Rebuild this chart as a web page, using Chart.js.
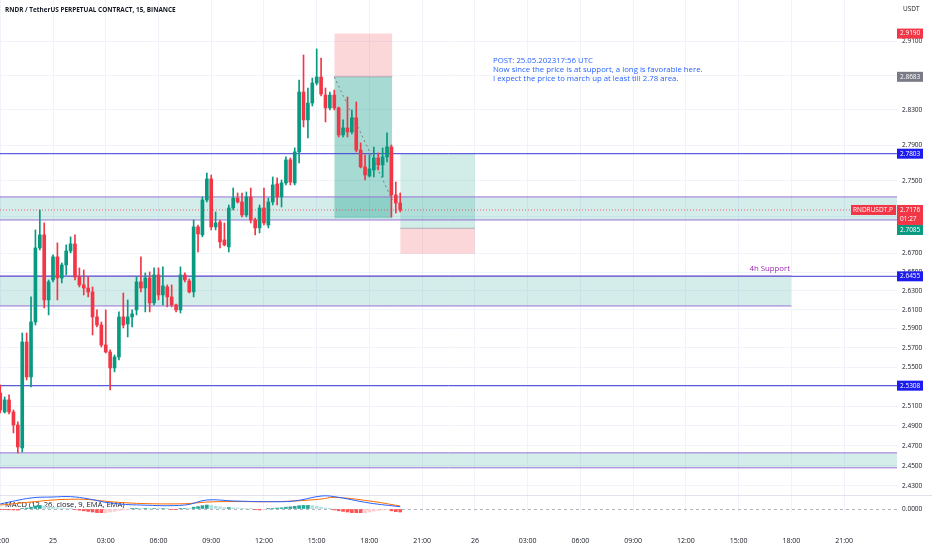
<!DOCTYPE html>
<html>
<head>
<meta charset="utf-8">
<script src="https://cdn.jsdelivr.net/npm/chart.js@4.4.0/dist/chart.umd.min.js"></script>
<style>
  html, body { margin: 0; padding: 0; background: #fff; }
  #wrap { width: 932px; height: 550px; position: relative; }
</style>
</head>
<body>
<div id="wrap"><canvas id="chart"></canvas></div>
<script>
// RNDRUSDT.P 15m candles, first one at 24th 21:00 (x = hours from 25th 00:00)
const startHour = -3;
const opens = [2.5233,2.5040,2.5162,2.5040,2.4908,2.4677,2.5760,2.5398,2.5970,2.6761,
  2.6903,2.6203,2.6416,2.6664,2.6437,2.6577,2.6728,2.6805,2.6448,2.6363,
  2.6330,2.6288,2.6023,2.5938,2.5729,2.5656,2.5491,2.5604,2.6023,2.5949,
  2.6023,2.6097,2.6395,2.6330,2.6437,2.6171,2.6470,2.6256,2.6341,2.6235,
  2.6150,2.6097,2.6470,2.6405,2.6288,2.6990,2.6903,2.7286,2.7520,2.6990,
  2.7044,2.6848,2.6772,2.7198,2.7308,2.7264,2.7121,2.7320,2.7066,2.6979,
  2.7198,2.7011,2.7264,2.7464,2.7320,2.7475,2.7733,2.7475,2.7823,2.8507,
  2.8186,2.8380,2.8611,2.8681,2.8472,2.8323,2.8472,2.8323,2.8015,2.8095,
  2.8049,2.8209,2.7845,2.7654,2.7553,2.7620,2.7755,2.7677,2.7767,2.7879,
  2.7342,2.7253];
const highs = [2.5315,2.5193,2.5213,2.5060,2.4939,2.5854,2.5854,2.6235,2.6957,2.7176,
  2.7033,2.6416,2.6685,2.6816,2.6599,2.6794,2.6881,2.6903,2.6545,2.6523,
  2.6448,2.6341,2.6097,2.5970,2.6097,2.5677,2.5625,2.6076,2.6277,2.6203,
  2.6097,2.6448,2.6664,2.6491,2.6502,2.6545,2.6545,2.6556,2.6363,2.6363,
  2.6160,2.6556,2.6491,2.6427,2.7066,2.7011,2.7320,2.7586,2.7564,2.7154,
  2.7066,2.7033,2.7231,2.7419,2.7364,2.7364,2.7375,2.7419,2.7088,2.7231,
  2.7419,2.7308,2.7542,2.7531,2.7509,2.7767,2.7755,2.7868,2.8646,2.8938,
  2.8553,2.8669,2.9009,2.8903,2.8553,2.8507,2.8530,2.8334,2.8186,2.8449,
  2.8300,2.8392,2.7924,2.7789,2.7789,2.7879,2.7811,2.7868,2.8038,2.7901,
  2.7486,2.7364];
const lows = [2.5029,2.5029,2.5019,2.4828,2.4627,2.4637,2.5367,2.5295,2.5938,2.6739,
  2.6118,2.6044,2.6395,2.6203,2.6384,2.6470,2.6707,2.6416,2.6341,2.6256,
  2.6235,2.5834,2.5917,2.5708,2.5646,2.5264,2.5450,2.5573,2.5907,2.5813,
  2.5917,2.6044,2.6288,2.6076,2.6076,2.6150,2.6203,2.6150,2.6129,2.6129,
  2.6076,2.6065,2.6395,2.6277,2.6235,2.6717,2.6881,2.7264,2.6957,2.6957,
  2.6761,2.6783,2.6717,2.7176,2.7253,2.7099,2.7099,2.7033,2.6903,2.6924,
  2.7011,2.6979,2.7231,2.7231,2.7209,2.7453,2.7453,2.7453,2.7700,2.8106,
  2.7981,2.8346,2.8588,2.8461,2.8163,2.8300,2.8300,2.7992,2.7992,2.7992,
  2.8026,2.7823,2.7643,2.7509,2.7542,2.7542,2.7620,2.7542,2.7711,2.7099,
  2.7143,2.7154];
const closes = [2.5060,2.5162,2.5040,2.4908,2.4687,2.5760,2.5398,2.5970,2.6761,2.6903,
  2.6203,2.6395,2.6664,2.6437,2.6577,2.6728,2.6805,2.6448,2.6363,2.6330,
  2.6288,2.6023,2.5938,2.5729,2.5656,2.5491,2.5604,2.6023,2.5938,2.6023,
  2.6055,2.6395,2.6330,2.6437,2.6171,2.6470,2.6256,2.6352,2.6235,2.6150,
  2.6097,2.6470,2.6416,2.6288,2.6990,2.6913,2.7286,2.7520,2.6990,2.7033,
  2.6826,2.6794,2.7198,2.7308,2.7264,2.7121,2.7320,2.7066,2.6979,2.7198,
  2.7033,2.7264,2.7453,2.7320,2.7475,2.7733,2.7486,2.7823,2.8507,2.8186,
  2.8380,2.8611,2.8681,2.8484,2.8323,2.8472,2.8323,2.8015,2.8095,2.8049,
  2.8209,2.7845,2.7654,2.7565,2.7632,2.7755,2.7677,2.7767,2.7879,2.7342,
  2.7253,2.7176];

// MACD histogram per candle, and MACD / signal lines read at some hours
const macdHist = [-0.0005,-0.0006,-0.0007,-0.0008,-0.0009,0.0003,0.0008,0.0015,0.0025,0.0030,
  0.0025,0.0020,0.0015,0.0010,0.0008,0.0005,0.0003,-0.0005,-0.0010,-0.0015,
  -0.0020,-0.0025,-0.0030,-0.0032,-0.0030,-0.0025,-0.0020,-0.0012,-0.0008,-0.0003,
  0.0002,0.0006,0.0004,0.0005,0.0003,0.0004,0.0003,0.0004,0.0002,-0.0002,
  -0.0003,0.0003,0.0004,0.0002,0.0015,0.0020,0.0028,0.0033,0.0030,0.0022,
  0.0018,0.0012,0.0012,0.0010,0.0008,0.0006,0.0004,0.0001,-0.0006,-0.0008,
  -0.0004,0.0002,0.0005,0.0008,0.0010,0.0015,0.0018,0.0022,0.0028,0.0030,
  0.0030,0.0028,0.0022,0.0015,0.0008,0.0002,-0.0008,-0.0015,-0.0020,-0.0025,
  -0.0030,-0.0033,-0.0035,-0.0033,-0.0025,-0.0018,-0.0012,-0.0008,-0.0006,-0.0015,
  -0.0022,-0.0025];
const macdHours = [-3, -1.25, 0, 1, 2, 3.25, 5, 7.5, 8.75, 10.25, 12.25, 13.75, 15.25, 16, 18, 19.75];
const macdLine = [0.0042,0.0092,0.0100,0.0103,0.0085,0.0050,0.0033,0.0033,0.0075,0.0067,0.0061,0.0067,0.0108,0.0103,0.0050,0.0019];
const signalLine = [0.0033,0.0058,0.0075,0.0081,0.0079,0.0061,0.0046,0.0044,0.0058,0.0062,0.0061,0.0067,0.0083,0.0097,0.0067,0.0025];

// drawings
const levelPrices = [2.7803, 2.6455, 2.5308];
const zoneTops = [2.7320, 2.6459, 2.4628];
const zoneBottoms = [2.7066, 2.6139, 2.4479];
const zoneEnds = [48.01, 42, 48.01];
const shortLevels = [2.9190, 2.8683, 2.7085]; // stop, entry, target
const shortSpan = [16, 19.3];
const longLevels = [2.7803, 2.6975, 2.6697];  // target, entry, stop
const longSpan = [19.75, 24];
const lastPrice = 2.7176;

// axes
const xMin = -3.015, xMax = 48.01;
const timeTicks = [-3, 0, 3, 6, 9, 12, 15, 18, 21, 24, 27, 30, 33, 36, 39, 42, 45];
const timeLabels = ['21:00', '25', '03:00', '06:00', '09:00', '12:00', '15:00', '18:00', '21:00',
  '26', '03:00', '06:00', '09:00', '12:00', '15:00', '18:00', '21:00'];
const priceTicks = [2.91, 2.87, 2.83, 2.79, 2.75, 2.71, 2.67, 2.65, 2.63, 2.61, 2.59, 2.57,
  2.55, 2.53, 2.51, 2.49, 2.47, 2.45, 2.43];
const markerPrices = [2.9190, 2.8683, 2.7803, 2.7176, 2.7085, 2.6455, 2.5308];
const markerColors = ['#f23645', '#787b86', '#1c1cf0', '#f23645', '#089981', '#1c1cf0', '#1c1cf0'];
const markerExtra = ['', '', '', '01:27', '', '', ''];

const UP = '#089981', DOWN = '#f23645';
const FONT = "'Open Sans', sans-serif";
Chart.defaults.font.family = FONT;

const candleX = opens.map((_, i) => startHour + i * 0.25);
const candleColor = c => closes[c.dataIndex] >= opens[c.dataIndex] ? UP : DOWN;

function hLine(y, x0, x1, color, extra) {
  return Object.assign({
    type: 'line', data: [{ x: x0, y }, { x: x1, y }], yAxisID: 'y',
    borderColor: color, borderWidth: 1, pointRadius: 0, fill: false, order: 3
  }, extra || {});
}

const datasets = [
  {
    type: 'bar', data: candleX.map((x, i) => ({ x, y: [opens[i], closes[i]] })),
    backgroundColor: candleColor, barThickness: 3, grouped: false, minBarLength: 1,
    borderWidth: 0, yAxisID: 'y', order: 0
  },
  {
    type: 'bar', data: candleX.map((x, i) => ({ x, y: [lows[i], highs[i]] })),
    backgroundColor: candleColor, barThickness: 1, grouped: false,
    borderWidth: 0, yAxisID: 'y', order: 0
  },
  {
    type: 'bar', data: candleX.map((x, i) => ({ x, y: macdHist[i] })),
    backgroundColor: c => {
      const i = c.dataIndex, v = macdHist[i], p = i > 0 ? macdHist[i - 1] : 0;
      return v >= 0 ? (v >= p ? '#26a69a' : '#b2dfdb') : (v < p ? '#ff5252' : '#ffcdd2');
    },
    barThickness: 3, grouped: false, borderWidth: 0, yAxisID: 'ym', order: 0
  },
  {
    type: 'line', data: macdHours.map((x, i) => ({ x, y: macdLine[i] })), yAxisID: 'ym',
    borderColor: '#2962ff', borderWidth: 1, pointRadius: 0, tension: 0.4, order: 0
  },
  {
    type: 'line', data: macdHours.map((x, i) => ({ x, y: signalLine[i] })), yAxisID: 'ym',
    borderColor: '#ff6d00', borderWidth: 1, pointRadius: 0, tension: 0.4, order: 0
  },
  hLine(lastPrice, xMin, xMax, 'rgba(242,54,69,0.75)', { borderDash: [1, 2], order: 1 }),
  {
    type: 'line', data: [{ x: shortSpan[0], y: shortLevels[1] }, { x: shortSpan[1], y: 2.7286 }],
    yAxisID: 'y', borderColor: '#787b86', borderWidth: 1, borderDash: [2, 3], pointRadius: 0, order: 1
  }
];

// zones: border lines + fill between them
zoneTops.forEach((t, i) => {
  datasets.push(hLine(t, xMin, zoneEnds[i], '#9a72d4', { order: 2 }));
  datasets.push(hLine(zoneBottoms[i], xMin, zoneEnds[i], '#9a72d4',
    { order: 2, fill: '-1', backgroundColor: 'rgba(38,166,154,0.2)' }));
});
levelPrices.forEach(p => datasets.push(hLine(p, xMin, xMax, '#3b3bd6', { order: 3 })));

// short position
datasets.push(hLine(shortLevels[0], shortSpan[0], shortSpan[1], 'rgba(0,0,0,0)', { order: 4, borderWidth: 0 }));
datasets.push(hLine(shortLevels[1], shortSpan[0], shortSpan[1], 'rgba(120,123,134,0.5)',
  { order: 4, fill: '-1', backgroundColor: 'rgba(242,54,69,0.2)' }));
datasets.push(hLine(shortLevels[2], shortSpan[0], shortSpan[1], 'rgba(0,0,0,0)',
  { order: 4, borderWidth: 0, fill: '-1', backgroundColor: 'rgba(8,153,129,0.36)' }));
// long position
datasets.push(hLine(longLevels[0], longSpan[0], longSpan[1], 'rgba(0,0,0,0)', { order: 4, borderWidth: 0 }));
datasets.push(hLine(longLevels[1], longSpan[0], longSpan[1], 'rgba(120,123,134,0.5)',
  { order: 4, fill: '-1', backgroundColor: 'rgba(8,153,129,0.18)' }));
datasets.push(hLine(longLevels[2], longSpan[0], longSpan[1], 'rgba(0,0,0,0)',
  { order: 4, borderWidth: 0, fill: '-1', backgroundColor: 'rgba(242,54,69,0.2)' }));

const overlay = {
  id: 'overlay',
  beforeDatasetsDraw(chart) {
    const { ctx } = chart;
    const sep = chart.scales.y.bottom;
    ctx.save();
    ctx.strokeStyle = '#e0e3eb';
    ctx.lineWidth = 1;
    ctx.beginPath();
    ctx.moveTo(0, Math.round(sep) + 0.5);
    ctx.lineTo(chart.width, Math.round(sep) + 0.5);
    ctx.stroke();
    ctx.fillStyle = '#131722';
    ctx.font = '7.6px ' + FONT;
    ctx.textBaseline = 'middle';
    ctx.fillText('MACD (12, 26, close, 9, EMA, EMA)', 5, 505);
    ctx.restore();
  },
  afterDraw(chart) {
    const { ctx, chartArea } = chart;
    const ys = chart.scales.y;
    const right = chartArea.right;
    ctx.save();
    ctx.textBaseline = 'middle';

    ctx.fillStyle = '#131722';
    ctx.font = 'bold 6.4px ' + FONT;
    ctx.fillText('RNDR / TetherUS PERPETUAL CONTRACT, 15, BINANCE', 5, 10);
    ctx.font = '6.5px ' + FONT;
    ctx.fillText('USDT', 903, 9);

    ctx.fillStyle = '#2962ff';
    ctx.font = '7.8px ' + FONT;
    ctx.fillText('POST: 25.05.202317:56 UTC', 493, 61);
    ctx.fillText('Now since the price is at support, a long is favorable here.', 493, 70);
    ctx.fillText('I expect the price to march up at least till 2.78 area.', 493, 79);

    ctx.fillStyle = '#9c27b0';
    ctx.textAlign = 'right';
    ctx.fillText('4h Support', 790, 269);
    ctx.textAlign = 'left';

    // symbol label
    const yl = ys.getPixelForValue(lastPrice);
    ctx.fillStyle = '#f23645';
    ctx.fillRect(right - 46, yl - 5, 45, 10);
    ctx.fillStyle = '#fff';
    ctx.font = '6.5px ' + FONT;
    ctx.fillText('RNDRUSDT.P', right - 44, yl);

    // price axis markers
    let prevBottom = -Infinity;
    markerPrices.forEach((p, i) => {
      const lines = markerExtra[i] ? 2 : 1;
      const h = lines * 10;
      const top = Math.max(ys.getPixelForValue(p) - 5, prevBottom);
      ctx.fillStyle = markerColors[i];
      ctx.fillRect(right, top, 26, h);
      ctx.fillStyle = '#fff';
      ctx.fillText(p.toFixed(4), right + 3, top + 5);
      if (lines > 1) ctx.fillText(markerExtra[i], right + 3, top + 14);
      prevBottom = top + h;
    });
    ctx.restore();
  }
};

new Chart(document.getElementById('chart'), {
  type: 'line',
  data: { datasets },
  plugins: [overlay],
  options: {
    responsive: true,
    maintainAspectRatio: false,
    animation: false,
    layout: { padding: 0 },
    plugins: { legend: { display: false }, tooltip: { enabled: false } },
    scales: {
      x: {
        type: 'linear', position: 'bottom', min: xMin, max: xMax, offset: false,
        afterBuildTicks: s => { s.ticks = timeTicks.map(v => ({ value: v })); },
        afterFit: s => { s.height = 37; s.paddingLeft = 0; s.paddingRight = 0; },
        ticks: {
          autoSkip: false, maxRotation: 0, padding: 24, color: '#131722', font: { size: 7 },
          callback: v => { const i = timeTicks.indexOf(v); return i < 0 ? '' : timeLabels[i]; }
        },
        grid: { color: '#f0f3fa', drawTicks: false, offset: false },
        border: { display: false }
      },
      y: {
        type: 'logarithmic', position: 'right', stack: 'pane', stackWeight: 495,
        min: 2.4211, max: 2.9590, bounds: 'data',
        afterBuildTicks: s => { s.ticks = priceTicks.map(v => ({ value: v })); },
        afterFit: s => { s.width = 35; s.paddingTop = 0; s.paddingBottom = 0; },
        ticks: {
          autoSkip: false, padding: 5, color: '#131722', font: { size: 6.5 },
          callback: v => Number(v).toFixed(4)
        },
        grid: { color: '#f0f3fa', drawTicks: false },
        border: { display: false }
      },
      ym: {
        type: 'linear', position: 'right', stack: 'pane', stackWeight: 18,
        min: -0.003333, max: 0.011667,
        afterBuildTicks: s => { s.ticks = [{ value: 0 }]; },
        afterFit: s => { s.width = 35; s.paddingTop = 0; s.paddingBottom = 0; },
        ticks: {
          autoSkip: false, padding: 5, color: '#131722', font: { size: 6.5 },
          callback: () => '0.0000'
        },
        grid: { color: '#b2b5be', drawTicks: false },
        border: { display: false, dash: [3, 3] }
      }
    }
  }
});
</script>
</body>
</html>
